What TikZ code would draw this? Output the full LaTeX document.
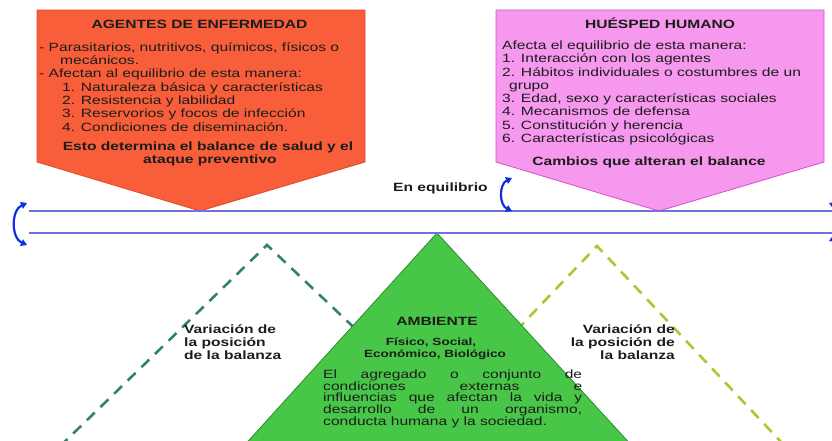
\documentclass[tikz,border=0pt]{standalone}
\usepackage{fontspec}
\setmainfont[FakeStretch=1.3]{Liberation Sans}
\usepackage{xcolor}
\usetikzlibrary{arrows.meta}

\definecolor{agentred}{RGB}{248,94,58}
\definecolor{agentedge}{RGB}{225,70,40}
\definecolor{hostpink}{RGB}{246,152,238}
\definecolor{hostedge}{RGB}{215,80,205}
\definecolor{envgreen}{RGB}{72,198,72}
\definecolor{envedge}{RGB}{45,140,45}
\definecolor{beamblue}{RGB}{112,112,222}
\definecolor{turnblue}{RGB}{20,45,225}
\definecolor{tealdash}{RGB}{52,130,108}
\definecolor{limedash}{RGB}{168,200,52}
\definecolor{inkgray}{RGB}{28,28,28}

\tikzset{
  txt/.style={font=\fontsize{12}{13.3}\selectfont, text=inkgray, inner sep=0pt},
  btxt/.style={txt, font=\fontsize{12}{13.3}\selectfont\bfseries},
  sbtxt/.style={txt, font=\fontsize{10.4}{12}\selectfont\bfseries},
  beam/.style={beamblue, line width=1.3pt},
  turn/.style={turnblue, line width=2.2pt, {Triangle[length=6pt,width=7pt]}-{Triangle[length=6pt,width=7pt]}},
  swing/.style={line width=2.6pt, dash pattern=on 11pt off 8pt}
}

\begin{document}
\begin{tikzpicture}[x=1pt,y=-1pt]
  \useasboundingbox (0,0) rectangle (832,440);

  % dashed positions of the balance
  \draw[swing, tealdash] (46,460) -- (267,245) -- (385,357);
  \draw[swing, limedash] (490,358) -- (597,246) -- (798,460);

  % environment triangle
  \draw[fill=envgreen, draw=envedge, line width=0.8pt] (437,233) -- (231,460) -- (645,460) -- cycle;

  % the two pointers
  \draw[fill=agentred, draw=agentedge, line width=0.8pt] (37,10) -- (365,10) -- (365,162) -- (200,211) -- (37,162) -- cycle;
  \draw[fill=hostpink, draw=hostedge, line width=0.8pt] (496,10) -- (824,10) -- (824,162) -- (659,211) -- (496,162) -- cycle;

  % beam
  \coordinate (bu1) at (29,211);
  \coordinate (bu2) at (832,211);
  \coordinate (bl1) at (29,233);
  \coordinate (bl2) at (832,233);
  \draw[beam] (bu1) -- (bu2);
  \draw[beam] (bl1) -- (bl2);

  % turning arrows
  \coordinate (lt1) at (27,203);
  \coordinate (lt2) at (27,245);
  \draw[turn] (lt1) .. controls (11,210) and (11,238) .. (lt2);
  \coordinate (mt1) at (512,178);
  \coordinate (mt2) at (512,211);
  \draw[turn] (mt1) .. controls (499,184) and (499,205) .. (mt2);
  \coordinate (rt1) at (829,203);
  \coordinate (rt2) at (829,241);
  \draw[turn] (rt1) .. controls (846,210) and (846,234) .. (rt2);

  % agentes
  \node[btxt, anchor=base] (agtitle) at (199.5,28.5) {AGENTES DE ENFERMEDAD};
  \node[txt, anchor=base west] (ag1) at (39,51.5) {- Parasitarios, nutritivos, químicos, físicos o};
  \node[txt, anchor=base west] (ag2) at (60,64) {mecánicos.};
  \node[txt, anchor=base west] (ag3) at (39,77.5) {- Afectan al equilibrio de esta manera:};
  \node[txt, anchor=base west] (ag4) at (62,91) {1. Naturaleza básica y características};
  \node[txt, anchor=base west] (ag5) at (62,104) {2. Resistencia y labilidad};
  \node[txt, anchor=base west] (ag6) at (62,117.5) {3. Reservorios y focos de infección};
  \node[txt, anchor=base west] (ag7) at (62,131) {4. Condiciones de diseminación.};
  \node[btxt, anchor=base] (agend1) at (208,150) {Esto determina el balance de salud y el};
  \node[btxt, anchor=base] (agend2) at (210,163.5) {ataque preventivo};

  % huesped
  \node[btxt, anchor=base] (hutitle) at (660,28) {HUÉSPED HUMANO};
  \node[txt, anchor=base west] (hu0) at (502,49.5) {Afecta el equilibrio de esta manera:};
  \node[txt, anchor=base west] (hu1) at (502,62.8) {1. Interacción con los agentes};
  \node[txt, anchor=base west] (hu2) at (502,76) {2. Hábitos individuales o costumbres de un};
  \node[txt, anchor=base west] (hu2b) at (509,89.2) {grupo};
  \node[txt, anchor=base west] (hu3) at (502,102.5) {3. Edad, sexo y características sociales};
  \node[txt, anchor=base west] (hu4) at (502,115.8) {4. Mecanismos de defensa};
  \node[txt, anchor=base west] (hu5) at (502,129) {5. Constitución y herencia};
  \node[txt, anchor=base west] (hu6) at (502,142.5) {6. Características psicológicas};
  \node[btxt, anchor=base] (huend) at (649,165) {Cambios que alteran el balance};

  % equilibrio
  \node[btxt, anchor=base west] (equil) at (393,191) {En equilibrio};

  % variacion
  \node[btxt, anchor=base west] (vl1) at (184,333) {Variación de};
  \node[btxt, anchor=base west] (vl2) at (184,346) {la posición};
  \node[btxt, anchor=base west] (vl3) at (184,359) {de la balanza};
  \node[btxt, anchor=base east] (vr1) at (675,333) {Variación de};
  \node[btxt, anchor=base east] (vr2) at (675,346) {la posición de};
  \node[btxt, anchor=base east] (vr3) at (675,359) {la balanza};

  % ambiente
  \node[btxt, anchor=base] (amtitle) at (437,325) {AMBIENTE};
  \node[sbtxt, anchor=base] (am1) at (431,345) {Físico, Social,};
  \node[sbtxt, anchor=base] (am2) at (435,357) {Económico, Biológico};
  \node[txt, anchor=base west] (am3) at (323,378) {\makebox[259pt][s]{El agregado o conjunto de}};
  \node[txt, anchor=base west] (am4) at (323,390) {\makebox[259pt][s]{condiciones externas e}};
  \node[txt, anchor=base west] (am5) at (323,401.7) {\makebox[259pt][s]{influencias que afectan la vida y}};
  \node[txt, anchor=base west] (am6) at (323,413.2) {\makebox[259pt][s]{desarrollo de un organismo,}};
  \node[txt, anchor=base west] (am7) at (323,425) {conducta humana y la sociedad.};
\end{tikzpicture}
\end{document}
